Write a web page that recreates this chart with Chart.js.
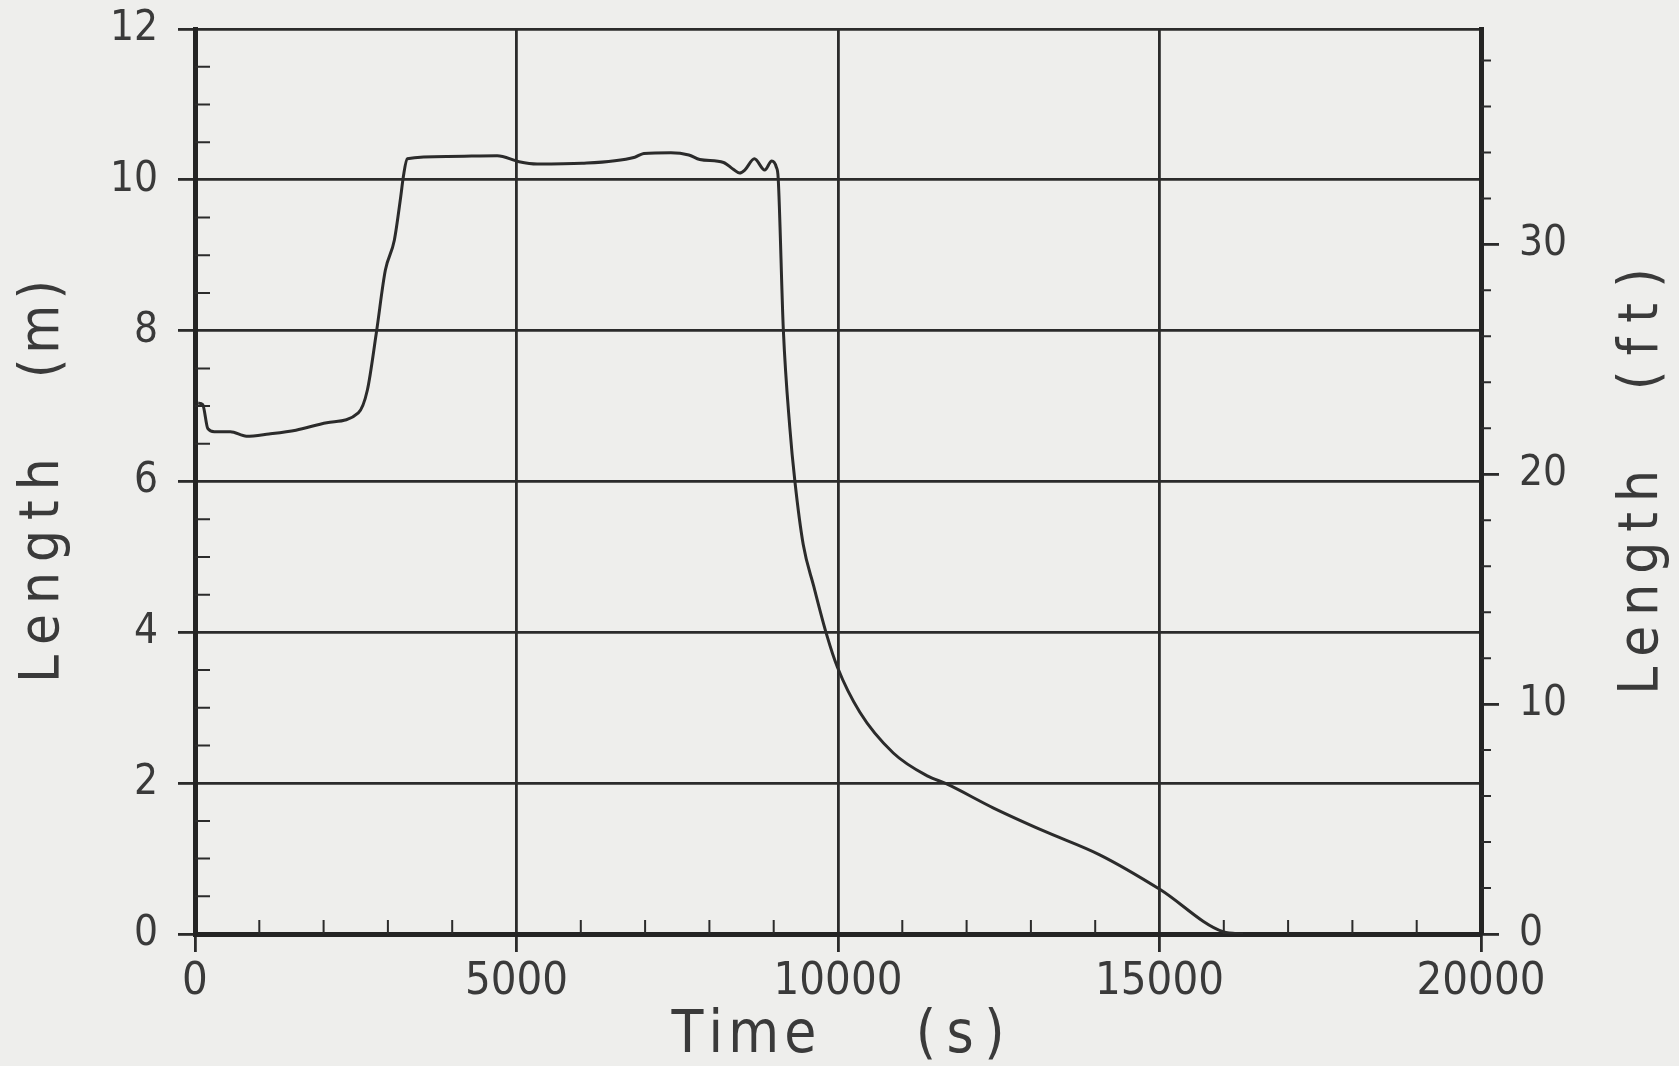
<!DOCTYPE html>
<html><head><meta charset="utf-8">
<script src="https://cdn.jsdelivr.net/npm/chart.js@4.4.1/dist/chart.umd.min.js"></script>
<style>html,body{margin:0;padding:0;background:#eeeeec;}#wrap{width:1679px;height:1066px;}</style>
</head><body><div id="wrap"><canvas id="c" width="1679" height="1066"></canvas></div>
<script>
// ---- data ----
const timeS = [50,120,200,300,550,800,1150,1570,2050,2540,2680,2820,2960,3100,3200,3240,3300,3930,4700,5040,5320,6020,6840,6980,7400,7680,7850,8220,8370,8470,8550,8700,8860,8970,9040,9070,9150,9250,9330,9460,9620,9820,9990,10340,10860,11380,11690,12420,13190,14070,15010,15990,16300];
const lengthM = [7.04,7.02,6.70,6.66,6.66,6.60,6.63,6.68,6.78,6.91,7.21,7.97,8.80,9.20,9.78,10.04,10.28,10.31,10.32,10.24,10.21,10.22,10.30,10.35,10.36,10.33,10.27,10.23,10.14,10.09,10.13,10.28,10.13,10.25,10.17,10.02,8.01,6.72,6.00,5.16,4.62,3.98,3.54,2.94,2.40,2.10,1.99,1.67,1.37,1.05,0.59,0.03,0.0];
const xTicks = [0,5000,10000,15000,20000];
const yTicksM = [0,2,4,6,8,10,12];
const yTicksFt = [0,10,20,30];
const xMinorStep = 1000;
const yMinorStepM = 0.5;
const yMinorStepFt = 2;
const M_TO_FT = 1/0.3048;
const hs = '\u200a', ts = '\u2009', nb = '\u00a0';
const xTitle = ['T','i','m','e'].join(hs) + nb.repeat(6) + ['(','s',')'].join(ts);
const yTitle = ['L','e','n','g','t','h'].join(hs + hs) + nb.repeat(5) + ['(','m',')'].join(hs);
const yRightTitle = ['L','e','n','g','t','h'].join(hs + hs) + nb.repeat(5) + ['(','f','t',')'].join(ts + hs);

const FONT = "'DejaVu Sans Condensed','Liberation Sans Narrow','DejaVu Sans',sans-serif";
const INK = '#2b2b2b';
const TXT = '#3a3a3a';
const noVPad = s => { s.paddingTop = 0; s.paddingBottom = 0; };

const extras = {
  id: 'extras',
  afterDraw(chart) {
    const ctx = chart.ctx;
    const x = chart.scales.x, y = chart.scales.y, yf = chart.scales.yft;
    ctx.save();
    ctx.strokeStyle = INK;
    ctx.lineWidth = 2;
    ctx.beginPath();
    for (let v = xMinorStep; v < x.max; v += xMinorStep) {
      if (v % 5000 === 0) continue;
      const px = x.getPixelForValue(v);
      ctx.moveTo(px, y.bottom); ctx.lineTo(px, y.bottom - 14);
    }
    for (let v = yMinorStepM; v < y.max; v += yMinorStepM) {
      if (Math.abs(v % 2) < 1e-9) continue;
      const py = y.getPixelForValue(v);
      ctx.moveTo(x.left, py); ctx.lineTo(x.left + 15, py);
    }
    for (let v = yMinorStepFt; v < yf.max; v += yMinorStepFt) {
      if (v % 10 === 0) continue;
      const py = yf.getPixelForValue(v);
      ctx.moveTo(x.right, py); ctx.lineTo(x.right + 10, py);
    }
    ctx.stroke();
    // right axis title, reading bottom to top like the left one
    ctx.font = "56px " + FONT;
    ctx.fillStyle = TXT;
    ctx.translate(yf.right - 37, (y.top + y.bottom) / 2);
    ctx.rotate(-Math.PI / 2);
    ctx.textAlign = 'center';
    ctx.textBaseline = 'middle';
    ctx.fillText(yRightTitle, 0, 0);
    ctx.restore();
  }
};

new Chart(document.getElementById('c'), {
  type: 'line',
  data: {
    datasets: [{
      data: timeS.map((t, i) => ({ x: t, y: lengthM[i] })),
      borderColor: INK,
      borderWidth: 3,
      pointRadius: 0,
      cubicInterpolationMode: 'monotone',
      fill: false
    }]
  },
  options: {
    responsive: false,
    animation: false,
    devicePixelRatio: 1,
    layout: { padding: { top: 29, left: 0, right: 0, bottom: 0 } },
    plugins: { legend: { display: false }, tooltip: { enabled: false } },
    scales: {
      x: {
        type: 'linear', position: 'bottom', min: 0, max: 20000,
        afterBuildTicks: s => { s.ticks = xTicks.map(v => ({ value: v })); },
        afterFit: s => { s.height = 132; },
        ticks: { color: TXT, font: { family: FONT, size: 45 }, padding: 3, maxRotation: 0, autoSkip: false, callback: v => String(v) },
        grid: { color: INK, lineWidth: 2.8, tickLength: 18 },
        border: { color: '#242424', width: 5 },
        title: { display: true, text: xTitle, color: TXT, font: { family: FONT, size: 58, lineHeight: 1 }, padding: { top: 0, bottom: 0 } }
      },
      y: {
        type: 'linear', position: 'left', min: 0, max: 12,
        afterBuildTicks: s => { s.ticks = yTicksM.map(v => ({ value: v })); },
        afterFit: s => { s.width = 195; noVPad(s); },
        ticks: { color: TXT, font: { family: FONT, size: 42 }, padding: 20, autoSkip: false, callback: v => String(v) },
        grid: { color: INK, lineWidth: 2.8, tickLength: 17 },
        border: { color: '#242424', width: 5 },
        title: { display: true, text: yTitle, color: TXT, font: { family: FONT, size: 56, lineHeight: 1 }, padding: { top: 15, bottom: 0 } }
      },
      yft: {
        type: 'linear', position: 'right', min: 0, max: 12 * M_TO_FT,
        afterBuildTicks: s => { s.ticks = yTicksFt.map(v => ({ value: v })); },
        afterFit: s => { s.width = 198; noVPad(s); },
        ticks: { color: TXT, font: { family: FONT, size: 42 }, padding: 20, autoSkip: false, callback: v => String(v) },
        grid: { drawOnChartArea: false, color: INK, lineWidth: 2.8, tickLength: 18 },
        border: { color: '#242424', width: 5 },
        title: { display: false }
      }
    }
  },
  plugins: [extras]
});
</script></body></html>
